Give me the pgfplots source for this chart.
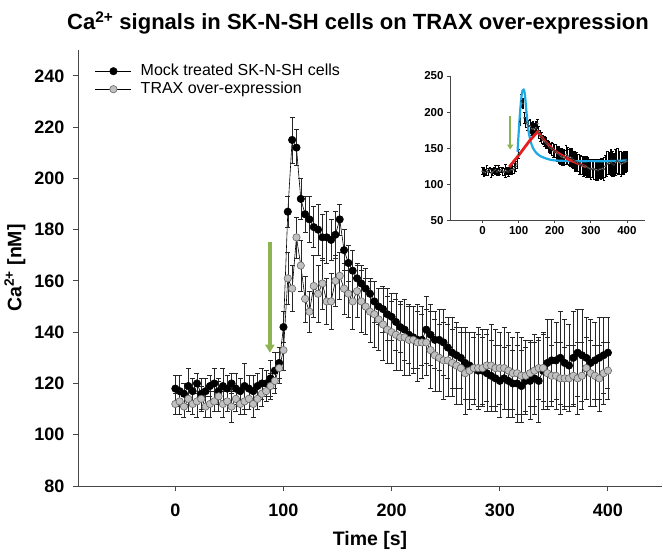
\documentclass[border=0pt]{standalone}
\usepackage{fontspec}
\setmainfont{Liberation Sans}
\usepackage{pgfplots}
\usepackage{pgfplotstable}
\pgfplotsset{compat=1.18}
\usetikzlibrary{arrows.meta}
\definecolor{trax}{RGB}{192,192,192}
\definecolor{arrowgreen}{RGB}{141,180,80}
\definecolor{fitblue}{RGB}{30,170,230}
\definecolor{fitred}{RGB}{230,30,30}
\definecolor{axisgray}{RGB}{70,70,70}

\pgfplotstableread{
x y e
0 118 5
4 117 6
8 116 4
12 119 7
16 117 5
20 120 4
24 116 6
28 117 5
32 119 4
36 120 6
40 117 5
44 119 7
48 118 5
52 120 4
56 118 6
60 117 5
64 119 9
68 118 5
72 117 6
76 119 5
80 120 6
84 120 5
88 122 7
92 125 7
96 128 6
100 142 6
104 187 6
108 215 9
112 212 7
116 192 8
120 186 7
124 184 9
128 181 8
132 180 10
136 177 9
140 177 10
144 176 8
148 178 9
152 184 6
156 172 8
160 167 7
164 164 8
168 161 6
172 159 7
176 157 8
180 155 6
184 152 8
188 150 7
192 149 9
196 147 10
200 146 9
204 144 11
208 142 10
212 141 12
216 139 11
220 138 12
224 137 11
228 137 10
232 141 13
236 139 12
240 137 11
244 137 12
248 136 13
252 134 12
256 132 14
260 131 13
264 130 12
268 128 14
272 127 13
276 126 12
280 125 14
284 125 13
288 124 15
292 123 14
296 122 13
300 121 14
304 122 12
308 121 14
312 120 13
316 120 15
320 119 14
324 121 13
328 121 15
332 122 14
336 121 16
340 125 15
344 128 17
348 129 16
352 129 15
356 130 18
360 128 17
364 127 16
368 130 18
372 132 17
376 131 18
380 130 16
384 128 17
388 129 15
392 130 16
396 131 15
400 132 14
}\mock

\pgfplotstableread{
x y e
0 112 4
4 113 5
8 111 4
12 114 5
16 112 4
20 113 6
24 114 5
28 111 4
32 112 5
36 113 4
40 115 6
44 112 5
48 113 4
52 111 6
56 114 5
60 112 4
64 113 5
68 114 4
72 112 5
76 114 4
80 116 5
84 117 4
88 119 5
92 121 5
96 126 6
100 133 8
104 161 10
108 157 9
112 177 8
116 166 10
120 153 9
124 148 8
128 158 12
132 155 11
136 159 10
140 152 9
144 152 11
148 160 10
152 162 9
156 157 10
160 155 9
164 152 11
168 156 10
172 152 12
176 150 11
180 148 12
184 147 13
188 145 12
192 143 14
196 141 13
200 140 12
204 139 14
208 138 13
212 138 15
216 137 14
220 137 13
224 136 15
228 136 14
232 136 13
236 133 15
240 131 14
244 130 13
248 129 15
252 129 14
256 128 13
260 127 15
264 126 14
268 124 16
272 125 15
276 126 14
280 126 16
284 126 15
288 127 14
292 127 16
296 126 15
300 126 14
304 126 16
308 125 15
312 124 14
316 124 16
320 123 15
324 123 14
328 124 13
332 125 14
336 126 12
340 126 13
344 124 14
348 123 12
352 123 13
356 122 14
360 122 12
364 122 13
368 123 12
372 122 14
376 123 13
380 126 12
384 124 13
388 123 12
392 122 13
396 124 12
400 125 11
}\trax

\begin{document}
\begin{tikzpicture}
\path[use as bounding box] (-78pt,-66pt) rectangle (585pt,486pt);
\begin{axis}[
  at={(0pt,0pt)}, anchor=south west,
  scale only axis, width=584pt, height=435.8pt,
  xmin=-90, xmax=450, ymin=80, ymax=250,
  axis lines*=left,
  axis line style={axisgray, line width=0.9pt},
  tick align=outside, major tick length=5pt,
  tick style={axisgray, line width=0.9pt},
  xtick={0,100,...,400}, ytick={80,100,...,240},
  /pgf/number format/assume math mode=true,
  ticklabel style={font=\bfseries\fontsize{18}{18}\selectfont},
  xticklabel style={yshift=-9pt},
  yticklabel style={xshift=-5pt},
  xlabel={Time [s]},
  ylabel={Ca\textsuperscript{2+} [nM]},
  label style={font=\bfseries\fontsize{19.5}{19.5}\selectfont},
  xlabel style={at={(axis description cs:0.5,-0.124)}, anchor=center},
  ylabel style={at={(axis description cs:-0.1079,0.5)}, anchor=center},
  legend style={draw=none, fill=none, inner sep=0pt, at={(axis description cs:0.029,0.9706)}, anchor=north west,
    font=\fontsize{16}{18}\selectfont, row sep=2pt, column sep=9pt,
    nodes={inner sep=0pt, text height=12pt, text depth=4pt}},
  legend cell align=left,
  legend image code/.code={\draw[mark repeat=2,mark phase=2,#1] plot coordinates {(0pt,0pt) (18pt,0pt) (36pt,0pt)};},
]
\addplot[black, line width=0.6pt, mark=*, mark size=3.7pt,
  mark options={fill=black, draw=black},
  error bars/.cd, y dir=both, y explicit,
  error bar style={black!85, line width=0.55pt},
  error mark options={rotate=90, mark size=2.5pt, line width=0.55pt, black!85}]
  table[x=x, y=y, y error=e]{\mock};
\addlegendentry{Mock treated SK-N-SH cells}
\addplot[black, line width=0.6pt, mark=*, mark size=3.7pt,
  mark options={fill=trax, draw=black!60},
  error bars/.cd, y dir=both, y explicit,
  error bar style={black!85, line width=0.55pt},
  error mark options={rotate=90, mark size=2.5pt, line width=0.55pt, black!85}]
  table[x=x, y=y, y error=e]{\trax};
\addlegendentry{TRAX over-expression}
\draw[arrowgreen, line width=3.5pt, -{Triangle[length=8pt,width=9pt]}] (axis cs:87.4,175) -- (axis cs:87.4,132);
\end{axis}

\node[font=\bfseries\fontsize{22}{22}\selectfont] at (280pt,463pt) {Ca\textsuperscript{2+} signals in SK-N-SH cells on TRAX over-expression};

\begin{axis}[
  at={(372pt,265.7pt)}, anchor=south west,
  scale only axis, width=195pt, height=144.3pt,
  xmin=-90, xmax=450, ymin=50, ymax=250,
  axis lines*=left,
  axis line style={axisgray, line width=0.8pt},
  tick align=outside, major tick length=3pt,
  tick style={axisgray, line width=0.8pt},
  xtick={0,100,...,400}, ytick={50,100,...,250},
  /pgf/number format/assume math mode=true,
  ticklabel style={font=\bfseries\fontsize{11.5}{11.5}\selectfont},
]
\addplot[only marks, mark=*, mark size=0.9pt,
  mark options={fill=white, draw=black, line width=0.3pt},
  error bars/.cd, y dir=both, y explicit,
  error bar style={black, line width=1.3pt},
  error mark options={rotate=90, mark size=1.2pt, line width=0.8pt}]
  table[x=x, y=y, y error=e]{\mock};
\addplot[fitblue, line width=2.2pt, no marks, smooth] coordinates {
(97,145) (100,170) (104,200) (108,222) (111,230) (114,231) (117,226) (120,210) (124,188) (128,172) (134,158) (140,150) (148,144) (160,139) (180,135) (200,133) (250,132) (300,132) (350,132) (400,133)};
\addplot[fitred, line width=2.8pt, no marks] coordinates {
(74,124) (100,140) (130,160) (153,173) (170,161) (200,146) (240,134) (287,124)};
\draw[arrowgreen, line width=2.5pt, -{Triangle[length=5pt,width=6pt]}] (axis cs:76.7,194) -- (axis cs:76.7,148);
\end{axis}
\end{tikzpicture}
\end{document}
